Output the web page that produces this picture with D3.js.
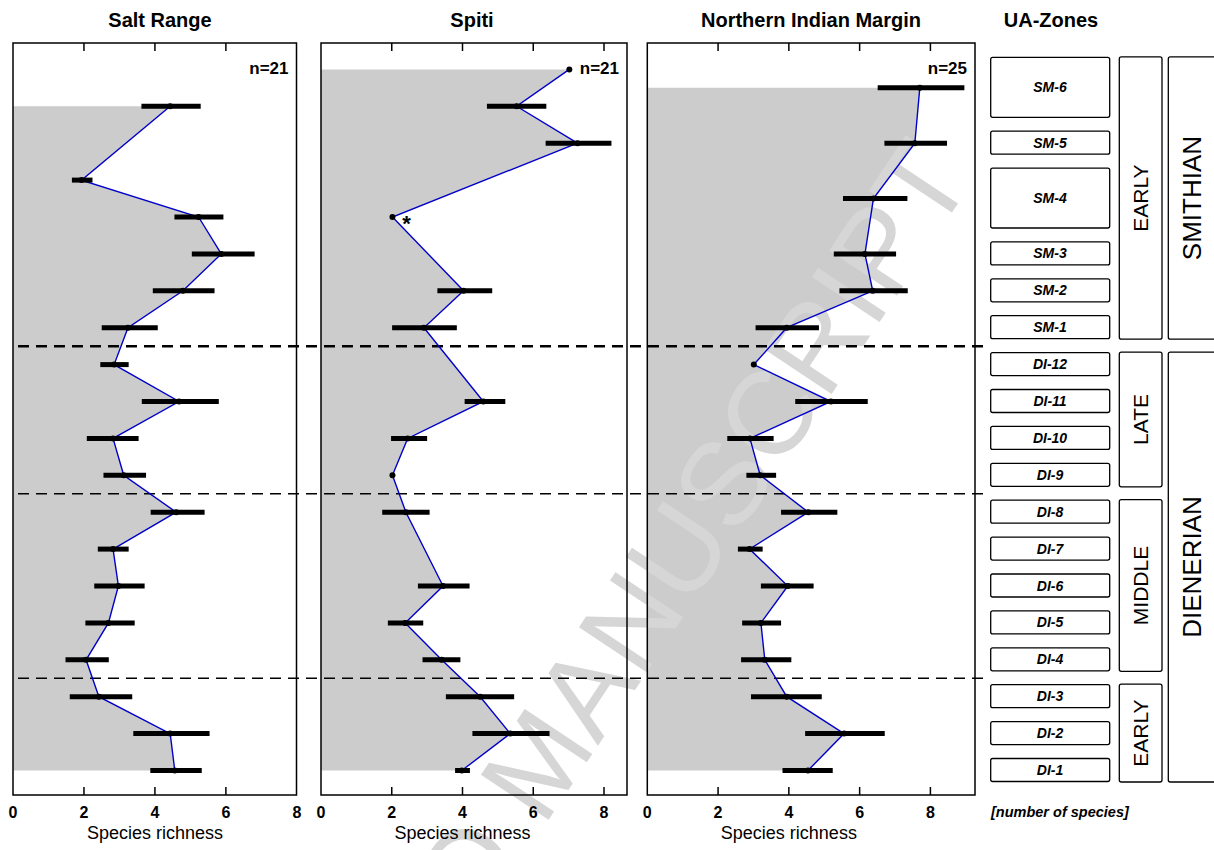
<!DOCTYPE html>
<html><head><meta charset="utf-8">
<script src="https://cdn.jsdelivr.net/npm/d3@7"></script>
<style>html,body{margin:0;padding:0;background:#fff}svg{display:block;font-family:"Liberation Sans",Arial,sans-serif}</style>
</head><body><svg id="c" width="1214" height="850"></svg>
<script>
// ---- data ----
const panelTitles = ["Salt Range", "Spiti", "Northern Indian Margin"];
const panelN = ["n=21", "n=21", "n=25"];
const xTicks = [0, 2, 4, 6, 8];

const saltLevel = [18,16,15,14,13,12,11,10,9,8,7,6,5,4,3,2,1,0];
const saltMean  = [4.43,1.93,5.23,5.87,4.79,3.24,2.85,4.68,2.82,3.12,4.60,2.82,2.97,2.69,2.06,2.42,4.43,4.56];
const saltLo    = [3.62,1.66,4.55,5.04,3.94,2.50,2.46,3.63,2.08,2.55,3.88,2.39,2.29,2.04,1.48,1.60,3.39,3.87];
const saltHi    = [5.29,2.24,5.93,6.81,5.68,4.08,3.26,5.80,3.54,3.75,5.40,3.26,3.71,3.43,2.70,3.36,5.54,5.32];

const spitiLevel = [19,18,17,15,13,12,10,9,8,7,5,4,3,2,1,0];
const spitiMean  = [7.02,5.53,7.25,2.02,4.03,2.91,4.59,2.45,2.02,2.40,3.45,2.38,3.41,4.50,5.35,3.98];
const spitiLo    = [null,4.69,6.35,null,3.29,2.01,4.06,1.98,null,1.73,2.74,1.89,2.87,3.53,4.28,3.79];
const spitiHi    = [null,6.37,8.21,null,4.84,3.84,5.21,3.00,null,3.07,4.20,2.89,3.94,5.46,6.46,4.21];

const nimLevel = [18.5,17,15.5,14,13,12,11,10,9,8,7,6,5,4,3,2,1,0];
const nimMean  = [7.70,7.56,6.39,6.15,6.37,3.94,3.01,5.19,2.90,3.19,4.55,2.89,3.97,3.21,3.32,3.94,5.56,4.54];
const nimLo    = [6.51,6.70,5.53,5.27,5.43,3.06,null,4.18,2.26,2.80,3.78,2.56,3.21,2.68,2.65,2.93,4.46,3.82];
const nimHi    = [8.96,8.47,7.35,7.03,7.36,4.85,null,6.23,3.57,3.64,5.37,3.26,4.70,3.78,4.07,4.93,6.71,5.24];

// UA-zones: name, lowest level, highest level
const zoneNames = ["SM-6","SM-5","SM-4","SM-3","SM-2","SM-1","DI-12","DI-11","DI-10","DI-9","DI-8","DI-7","DI-6","DI-5","DI-4","DI-3","DI-2","DI-1"];
const zoneLo    = [18,17,15,14,13,12,11,10,9,8,7,6,5,4,3,2,1,0];
const zoneHi    = [19,17,16,14,13,12,11,10,9,8,7,6,5,4,3,2,1,0];
const subNames = ["EARLY","LATE","MIDDLE","EARLY"];
const subLo    = [12,8,3,0];
const subHi    = [19,11,7,2];
const stageNames = ["SMITHIAN","DIENERIAN"];
const stageLo    = [12,0];
const stageHi    = [19,11];
const boundaryLevels = [11.5, 7.5, 2.5];
const boundaryWidths = [2.5, 1.5, 1.5];

// ---- layout ----
const svg = d3.select("#c");
const yTop = 43, yBot = 795;
const y = d3.scaleLinear().domain([0, 19]).range([770.5, 69.4]);
const panels = [
  {x0: 13,    x1: 296.5, max: 7.99, lev: saltLevel,  mean: saltMean,  lo: saltLo,  hi: saltHi,  tc: 160},
  {x0: 321,   x1: 627,   max: 8.65, lev: spitiLevel, mean: spitiMean, lo: spitiLo, hi: spitiHi, tc: 472},
  {x0: 647.3, x1: 975,   max: 9.26, lev: nimLevel,   mean: nimMean,   lo: nimLo,   hi: nimHi,   tc: 811}
];

panels.forEach((p, k) => {
  const x = d3.scaleLinear().domain([0, p.max]).range([p.x0, p.x1]);
  const g = svg.append("g");
  const pts = p.lev.map((l, i) => ({l, m: p.mean[i], lo: p.lo[i], hi: p.hi[i]}));
  const poly = [[0, pts[0].l]].concat(pts.map(d => [d.m, d.l])).concat([[0, pts[pts.length-1].l]]);
  g.append("path")
    .attr("d", d3.line().x(d => x(d[0])).y(d => y(d[1]))(poly) + "Z")
    .attr("fill", "#cccccc").attr("stroke", "none");
  p.x = x; p.pts = pts;
});

// watermark
svg.append("text")
  .attr("transform", "translate(975,178) rotate(-56.4)")
  .attr("text-anchor", "end")
  .attr("font-size", 118)
  .attr("fill", "#d6d6d6")
  .text("ACCEPTED MANUSCRIPT");

// boundaries (dashed)
boundaryLevels.forEach((b, i) => {
  svg.append("line")
    .attr("x1", 18).attr("x2", 990)
    .attr("y1", y(b)).attr("y2", y(b))
    .attr("stroke", "#000").attr("stroke-width", boundaryWidths[i])
    .attr("stroke-dasharray", "11,7");
});

panels.forEach((p, k) => {
  const x = p.x, pts = p.pts;
  const g = svg.append("g");
  g.append("path")
    .attr("d", d3.line().x(d => x(d.m)).y(d => y(d.l))(pts))
    .attr("fill", "none").attr("stroke", "#0000cc").attr("stroke-width", 1.4);
  g.selectAll("line.err").data(pts.filter(d => d.lo != null)).join("line")
    .attr("x1", d => x(d.lo)).attr("x2", d => x(d.hi))
    .attr("y1", d => y(d.l)).attr("y2", d => y(d.l))
    .attr("stroke", "#000").attr("stroke-width", 5);
  g.selectAll("circle").data(pts).join("circle")
    .attr("cx", d => x(d.m)).attr("cy", d => y(d.l)).attr("r", 3)
    .attr("fill", "#000");
  g.append("rect").attr("x", p.x0).attr("y", yTop)
    .attr("width", p.x1 - p.x0).attr("height", yBot - yTop)
    .attr("fill", "none").attr("stroke", "#000").attr("stroke-width", 1.5);
  const tk = xTicks.filter(t => t > 0 && x(t) < p.x1 - 2);
  g.selectAll("line.tt").data(tk).join("line")
    .attr("x1", d => x(d)).attr("x2", d => x(d)).attr("y1", yTop).attr("y2", yTop + 8)
    .attr("stroke", "#000").attr("stroke-width", 1.5);
  g.selectAll("line.bt").data(tk).join("line")
    .attr("x1", d => x(d)).attr("x2", d => x(d)).attr("y1", yBot).attr("y2", yBot - 8)
    .attr("stroke", "#000").attr("stroke-width", 1.5);
  g.selectAll("text.tl").data(xTicks).join("text")
    .attr("x", d => x(d)).attr("y", 818).attr("text-anchor", "middle")
    .attr("font-size", 16).attr("font-weight", "bold").text(d => d);
  g.append("text").attr("x", x(4)).attr("y", 839).attr("text-anchor", "middle")
    .attr("font-size", 18).text("Species richness");
  g.append("text").attr("x", p.tc).attr("y", 27).attr("text-anchor", "middle")
    .attr("font-size", 20).attr("font-weight", "bold").text(panelTitles[k]);
  const nx = k === 1 ? 619 : p.x1 - 8;
  g.append("text").attr("x", nx).attr("y", 74).attr("text-anchor", "end")
    .attr("font-size", 17).attr("font-weight", "bold").text(panelN[k]);
});

svg.append("text").attr("x", panels[1].x(2.02) + 14).attr("y", y(15) + 14)
  .attr("text-anchor", "middle").attr("font-size", 22).attr("font-weight", "bold").text("*");

// ---- UA zones ----
svg.append("text").attr("x", 1051).attr("y", 27).attr("text-anchor", "middle")
  .attr("font-size", 20).attr("font-weight", "bold").text("UA-Zones");
const ua = svg.append("g");
zoneNames.forEach((n, i) => {
  const yt = y(zoneHi[i]) - 12, yb = y(zoneLo[i]) + 11;
  ua.append("rect").attr("x", 990.7).attr("y", yt).attr("width", 119).attr("height", yb - yt)
    .attr("rx", 2).attr("fill", "none").attr("stroke", "#000").attr("stroke-width", 1.3);
  ua.append("text").attr("x", 1050).attr("y", (yt + yb) / 2 + 5).attr("text-anchor", "middle")
    .attr("font-size", 14).attr("font-weight", "bold").attr("font-style", "italic").text(n);
});
subNames.forEach((n, i) => {
  const yt = y(subHi[i]) - 12.5, yb = y(subLo[i]) + 11.5;
  ua.append("rect").attr("x", 1119.3).attr("y", yt).attr("width", 42.7).attr("height", yb - yt)
    .attr("rx", 2).attr("fill", "none").attr("stroke", "#000").attr("stroke-width", 1.3);
  ua.append("text").attr("transform", `translate(1148,${(yt + yb) / 2}) rotate(-90)`)
    .attr("text-anchor", "middle").attr("font-size", 21).text(n);
});
stageNames.forEach((n, i) => {
  const yt = y(stageHi[i]) - 12.5, yb = y(stageLo[i]) + 11.5;
  ua.append("rect").attr("x", 1168.3).attr("y", yt).attr("width", 80).attr("height", yb - yt)
    .attr("rx", 2).attr("fill", "none").attr("stroke", "#000").attr("stroke-width", 1.3);
  ua.append("text").attr("transform", `translate(1201,${(yt + yb) / 2}) rotate(-90)`)
    .attr("text-anchor", "middle").attr("font-size", 26).text(n);
});
svg.append("text").attr("x", 991).attr("y", 817).attr("font-size", 14.5)
  .attr("font-weight", "bold").attr("font-style", "italic").text("[number of species]");
</script></body></html>
